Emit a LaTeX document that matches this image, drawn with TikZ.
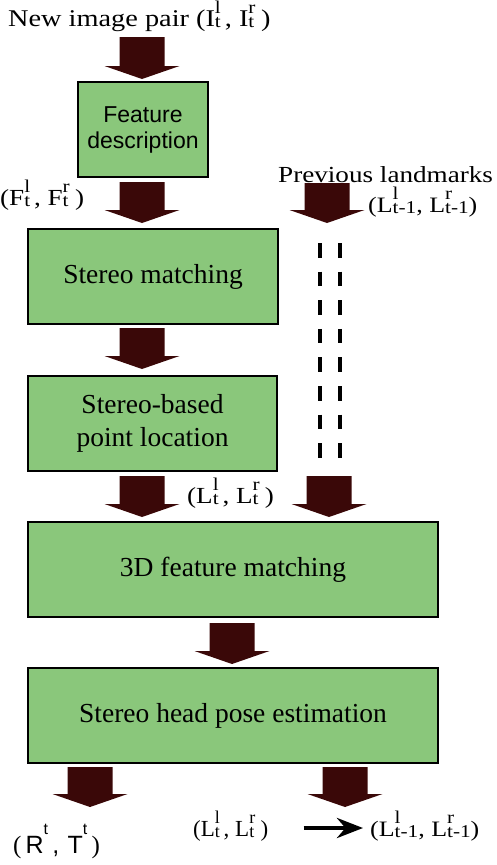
\documentclass[tikz,border=0pt]{standalone}
\usepackage{fontspec}
\setmainfont{Liberation Serif}
\newfontfamily\sansf{Liberation Sans}
\newfontfamily\widef{Liberation Serif}[FakeStretch=1.18]
\usetikzlibrary{calc,arrows.meta}
\definecolor{boxg}{RGB}{138,199,123}
\definecolor{darr}{RGB}{58,8,8}
\newcommand\scr[2]{{\fontsize{18}{18}\selectfont\rlap{\raisebox{0.7em}{#1}}\raisebox{-0.1em}{#2}}}
\newcommand\lf{\fontsize{23}{26}\selectfont}
\newcommand\supt{{\sansf\fontsize{16}{16}\selectfont\raisebox{1.15em}{t}}}
\newcommand\barrow[2]{\fill[darr] ($(#1)+(-22.5,0)$) -- ($(#1)+(22.5,0)$) -- ($(#2)+(22.5,-13)$) -- ($(#2)+(37.5,-13)$) -- (#2) -- ($(#2)+(-37.5,-13)$) -- ($(#2)+(-22.5,-13)$) -- cycle;}
\tikzset{
  box/.style={draw=black, line width=2pt, fill=boxg, inner sep=0pt, align=center, minimum height=95pt},
  txt/.style={inner sep=0pt, anchor=base west},
  dashln/.style={draw=black, line width=4.5pt, dash pattern=on 14.5pt off 14.1pt},
  conn/.style={draw=black, line width=4.5pt, -{Stealth[length=26pt,width=20pt]}}
}
\begin{document}
\begin{tikzpicture}[x=1pt,y=-1pt]
\useasboundingbox (0,0) rectangle (497,865);
% boxes
\node[box, minimum width=130pt, font={\sansf\fontsize{23}{26}\selectfont}] (fd) at (143,129.5) {Feature\\description};
\node[box, minimum width=250pt, font={\fontsize{27.5}{33}\selectfont}] (sm) at (153,276.5) {Stereo matching};
\node[box, minimum width=249pt, font={\fontsize{27.5}{33}\selectfont}] (sb) at (152.5,423.5) {Stereo-based\\point location};
\node[box, minimum width=410pt, font={\fontsize{27.5}{33}\selectfont}] (fm) at (233,569.5) {3D feature matching};
\node[box, minimum width=410pt, font={\fontsize{27.5}{33}\selectfont}] (hp) at (233,715.5) {Stereo head pose estimation};
% labels
\node[txt] (title) at (8,26) {\widef\fontsize{24}{28}\selectfont New image pair (I\scr{l}{t}\,, I\scr{r}{t}\;)};
\node[txt] (flab) at (0,205) {\widef\lf (F\scr{l}{t}\,, F\scr{r}{t}\;)};
\node[txt] (prev) at (278,182) {\widef\fontsize{23}{26}\selectfont Previous landmarks};
\node[txt] (llab1) at (368,212) {\widef\fontsize{22}{25}\selectfont (L\scr{l}{t-1}, L\scr{r}{t-1})};
\node[txt] (llab2) at (187,503) {\widef\lf (L\scr{l}{t}\,, L\scr{r}{t}\;)};
\node[txt] (rt) at (13,853) {\fontsize{25}{28}\selectfont (\,{\sansf R}\supt\,{\sansf ,}\,\,{\sansf T}\supt\,)};
\node[txt] (lt) at (193,836) {\lf (L\scr{l}{t}\,, L\scr{r}{t}\;)};
\node[txt] (lt1) at (370,836) {\widef\fontsize{22}{25}\selectfont (L\scr{l}{t-1}, L\scr{r}{t-1})};
% arrow coordinates
\coordinate (a1s) at (142,37);  \coordinate (a1e) at (142,79);
\coordinate (a2s) at (142,182); \coordinate (a2e) at (142,223);
\coordinate (a3s) at (142,328); \coordinate (a3e) at (142,369);
\coordinate (a4s) at (142,476); \coordinate (a4e) at (142,517);
\coordinate (a5s) at (327,183); \coordinate (a5e) at (327,223);
\coordinate (a6s) at (329,476); \coordinate (a6e) at (329,517);
\coordinate (a7s) at (232,623); \coordinate (a7e) at (232,664);
\coordinate (a8s) at (90,767);  \coordinate (a8e) at (90,807);
\coordinate (a9s) at (345,767); \coordinate (a9e) at (345,807);
\barrow{a1s}{a1e}
\barrow{a2s}{a2e}
\barrow{a3s}{a3e}
\barrow{a4s}{a4e}
\barrow{a5s}{a5e}
\barrow{a6s}{a6e}
\barrow{a7s}{a7e}
\barrow{a8s}{a8e}
\barrow{a9s}{a9e}
% dashed lines
\coordinate (d1s) at (320,243); \coordinate (d1e) at (320,458);
\coordinate (d2s) at (340,243); \coordinate (d2e) at (340,458);
\draw[dashln] (d1s) -- (d1e);
\draw[dashln] (d2s) -- (d2e);
% bottom arrow
\draw[conn] ($(lt.base east)+(35,-8)$) -- ($(lt1.base west)+(-7,-8)$);
\end{tikzpicture}
\end{document}
